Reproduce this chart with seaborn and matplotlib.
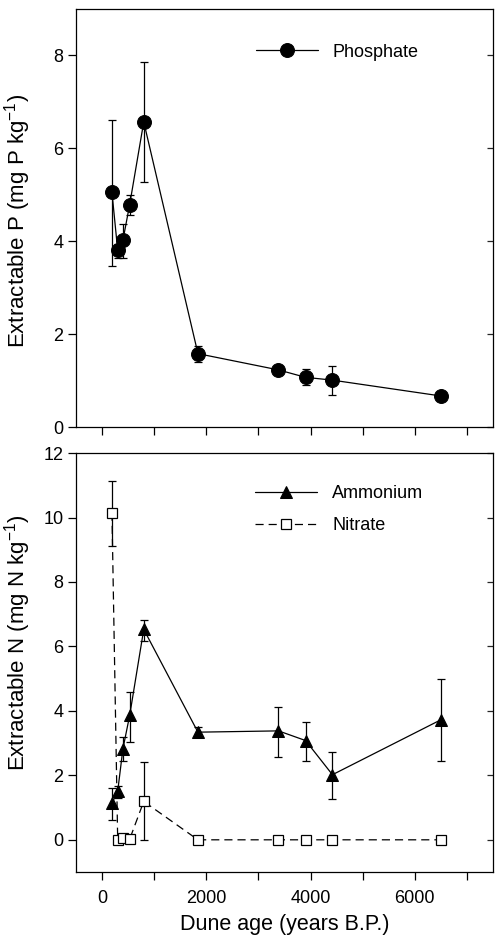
import numpy as np
import pandas as pd
import seaborn as sns
import matplotlib.pyplot as plt

# dune ages (years B.P.)
age = [190, 300, 400, 530, 800, 1840, 3385, 3905, 4420, 6495]

# extractable P (mg P kg-1), with error bar ends
phosphate = [5.05, 3.81, 4.02, 4.79, 6.57, 1.58, 1.23, 1.07, 1.01, 0.67]
phosphate_lo = [3.47, 3.64, 3.64, 4.56, 5.28, 1.40, 1.15, 0.90, 0.68, 0.62]
phosphate_hi = [6.62, 3.95, 4.37, 5.00, 7.87, 1.74, 1.30, 1.24, 1.32, 0.72]

# extractable N (mg N kg-1)
ammonium = [1.14, 1.50, 2.82, 3.86, 6.53, 3.34, 3.38, 3.08, 2.02, 3.72]
ammonium_lo = [0.60, 1.29, 2.43, 3.05, 6.18, 3.18, 2.58, 2.46, 1.27, 2.45]
ammonium_hi = [1.62, 1.68, 3.18, 4.59, 6.81, 3.49, 4.11, 3.67, 2.71, 4.98]

nitrate = [10.15, 0.0, 0.05, 0.02, 1.19, 0.0, 0.0, 0.0, 0.0, 0.0]
nitrate_lo = [9.13, 0.0, 0.05, 0.02, 0.0, 0.0, 0.0, 0.0, 0.0, 0.0]
nitrate_hi = [11.13, 0.0, 0.05, 0.02, 2.40, 0.0, 0.0, 0.0, 0.0, 0.0]

x_ticks = [0, 1000, 2000, 3000, 4000, 5000, 6000, 7000]
x_labels = ['0', '', '2000', '', '4000', '', '6000', '']

sns.set_theme(style='ticks')
plt.rcParams['font.family'] = ['Liberation Sans', 'DejaVu Sans']
plt.rcParams['mathtext.fontset'] = 'custom'
plt.rcParams['mathtext.rm'] = 'Liberation Sans'
plt.rcParams['mathtext.it'] = 'Liberation Sans:italic'
plt.rcParams['axes.linewidth'] = 0.9
plt.rcParams['axes.edgecolor'] = 'black'

df = pd.DataFrame({'age': age,
                   'phosphate': phosphate, 'p_lo': phosphate_lo, 'p_hi': phosphate_hi,
                   'ammonium': ammonium, 'a_lo': ammonium_lo, 'a_hi': ammonium_hi,
                   'nitrate': nitrate, 'n_lo': nitrate_lo, 'n_hi': nitrate_hi})

fig = plt.figure(figsize=(4.96, 9.4), dpi=100)
ax1 = fig.add_axes([0.1532, 0.5457, 0.8407, 0.4447])
ax2 = fig.add_axes([0.1532, 0.0723, 0.8407, 0.4457])


def bars(ax, col, lo, hi):
    y = df[col].to_numpy()
    err = [y - df[lo].to_numpy(), df[hi].to_numpy() - y]
    ax.errorbar(df['age'], y, yerr=err, fmt='none', ecolor='black',
                elinewidth=0.9, capsize=3, capthick=0.9, zorder=1)


# top panel: phosphate
bars(ax1, 'phosphate', 'p_lo', 'p_hi')
sns.lineplot(data=df, x='age', y='phosphate', ax=ax1, sort=False, color='black',
             lw=0.9, marker='o', markersize=10, markeredgecolor='black',
             label='Phosphate', zorder=3)

# bottom panel: ammonium + nitrate
bars(ax2, 'ammonium', 'a_lo', 'a_hi')
bars(ax2, 'nitrate', 'n_lo', 'n_hi')
sns.lineplot(data=df, x='age', y='ammonium', ax=ax2, sort=False, color='black',
             lw=0.9, marker='^', markersize=8, markeredgecolor='black',
             label='Ammonium', zorder=3)
sns.lineplot(data=df, x='age', y='nitrate', ax=ax2, sort=False, color='black',
             lw=0.9, marker='s', markersize=6.5, markerfacecolor='white',
             markeredgecolor='black', markeredgewidth=0.9,
             label='Nitrate', zorder=3)
ax2.lines[-1].set_linestyle((0, (6.5, 4)))

for ax, ylim, yt in [(ax1, (0, 9), [0, 2, 4, 6, 8]),
                     (ax2, (-1, 12), [0, 2, 4, 6, 8, 10, 12])]:
    ax.set_xlim(-500, 7500)
    ax.set_ylim(*ylim)
    ax.set_xticks(x_ticks)
    ax.set_yticks(yt)
    ax.tick_params(axis='both', direction='out', width=0.9,
                   colors='black', labelsize=13)
    ax.tick_params(axis='x', length=6, pad=7)
    ax.tick_params(axis='y', length=6, pad=3)
    for s in ax.spines.values():
        s.set_visible(True)
        s.set_color('black')
    right = ax.secondary_yaxis('right')
    right.set_yticks(yt)
    right.tick_params(direction='in', length=4, width=0.9, labelright=False)
    right.spines['right'].set_visible(False)

ax1.set_xticklabels([])
ax2.set_xticklabels(x_labels)
ax1.set_xlabel('')
ax2.set_xlabel('Dune age (years B.P.)', fontsize=15.5, labelpad=5, color='black')
ax1.set_ylabel('Extractable P (mg P kg$^{-1}$)', fontsize=16, color='black')
ax2.set_ylabel('Extractable N (mg N kg$^{-1}$)', fontsize=16, color='black')
ax1.yaxis.set_label_coords(-0.103, 0.493)
ax2.yaxis.set_label_coords(-0.103, 0.547)

common = dict(frameon=False, fontsize=13, handlelength=3.4, handletextpad=0.85,
              borderpad=0, borderaxespad=0, loc='center left', labelcolor='black')
ax1.legend(bbox_to_anchor=(0.432, 0.897), **common)
ax2.legend(bbox_to_anchor=(0.43, 0.865), labelspacing=0.85, **common)

fig.savefig('out.png', dpi=100)
